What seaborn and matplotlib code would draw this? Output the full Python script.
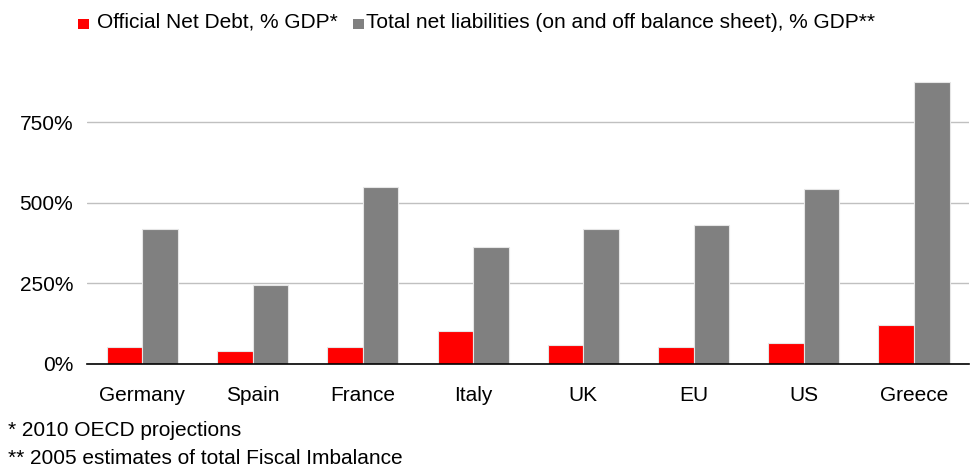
import matplotlib
matplotlib.use("Agg")
import matplotlib.pyplot as plt
from matplotlib.patches import Rectangle
from matplotlib.ticker import FuncFormatter, FixedLocator
import numpy as np
import pandas as pd
import seaborn as sns

# Data
countries = ["Germany", "Spain", "France", "Italy", "UK", "EU", "US", "Greece"]
official_net_debt = [51, 39, 51, 101, 57, 51, 64, 120]
total_net_liabilities = [418, 244, 548, 362, 418, 431, 542, 875]
series_names = ["Official Net Debt, % GDP*",
                "Total net liabilities (on and off balance sheet), % GDP**"]
footnotes = ["* 2010 OECD projections", "** 2005 estimates of total Fiscal Imbalance"]
y_ticks = [0, 250, 500, 750]

df = pd.DataFrame({
    "country": countries * 2,
    "series": [series_names[0]] * len(countries) + [series_names[1]] * len(countries),
    "value": official_net_debt + total_net_liabilities,
})

sns.set_theme(style="white")
plt.rcParams["font.family"] = ["Liberation Sans", "DejaVu Sans"]
plt.rcParams["text.color"] = "black"

FS = 15
colors = {series_names[0]: "#ff0000", series_names[1]: "#808080"}

W, H = 972, 471
fig = plt.figure(figsize=(W / 100, H / 100), dpi=100)
ax = fig.add_axes([0.0898, 0.2282, 0.9072, 0.6153])

sns.barplot(data=df, x="country", y="value", hue="series", palette=colors,
            width=0.645, edgecolor="#e6e6e6", linewidth=0.8, saturation=1,
            legend=False, ax=ax, zorder=3)

ax.set_ylim(0, 900)
ax.set_xlim(-0.5, len(countries) - 0.5)
ax.yaxis.set_major_locator(FixedLocator(y_ticks))
ax.yaxis.set_major_formatter(FuncFormatter(lambda v, _: f"{v:.0f}%"))
ax.grid(axis="y", color="#c0c0c0", linewidth=1.0, zorder=0)
ax.set_axisbelow(True)

for s in ["top", "right", "left"]:
    ax.spines[s].set_visible(False)
ax.spines["bottom"].set_color("black")
ax.spines["bottom"].set_linewidth(1.2)
ax.spines["bottom"].set_zorder(5)

ax.set_xlabel("")
ax.set_ylabel("")
ax.tick_params(axis="y", length=0, labelsize=FS, labelcolor="black", pad=10)
ax.tick_params(axis="x", which="major", length=0, labelsize=FS, labelcolor="black", pad=16)
ax.set_xticks(np.arange(-0.5, len(countries) + 0.5, 1.0), minor=True)
ax.tick_params(axis="x", which="minor", length=5, width=1.0, direction="out", color="black")

# Legend row: colored squares followed by series names
legend_items = [(78, 97, series_names[0]), (353, 366, series_names[1])]
for (sq_x, txt_x, name) in legend_items:
    fig.patches.append(Rectangle((sq_x / W, 1 - 29 / H), 10.5 / W, 10.5 / H,
                                 transform=fig.transFigure, facecolor=colors[name],
                                 edgecolor="none"))
    fig.text(txt_x / W, 1 - 22 / H, name, fontsize=FS, va="center", ha="left")

fig.text(8 / W, 1 - 430 / H, footnotes[0], fontsize=FS, va="center", ha="left")
fig.text(8 / W, 1 - 459 / H, footnotes[1], fontsize=FS, va="center", ha="left")

fig.savefig("out.png", dpi=100)
